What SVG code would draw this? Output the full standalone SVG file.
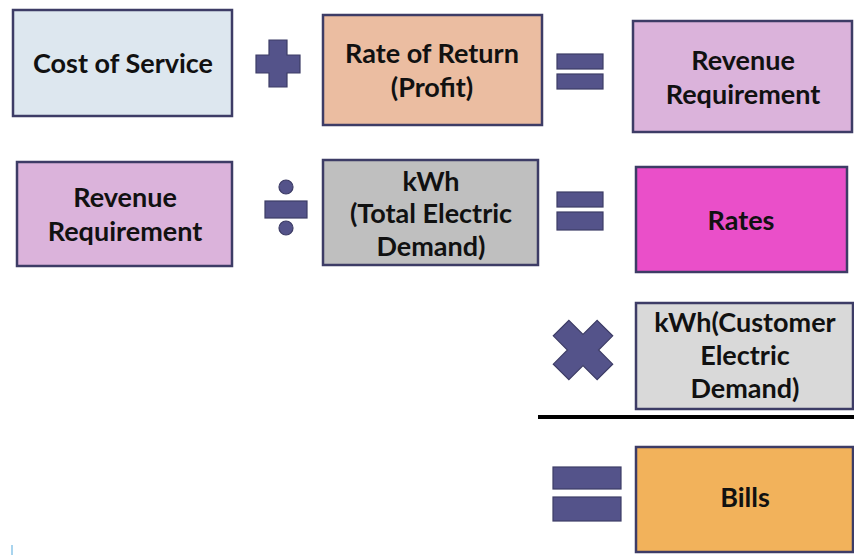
<svg xmlns="http://www.w3.org/2000/svg" width="854" height="556" viewBox="0 0 854 556">
<style>
.box{stroke:#3d3c66;stroke-width:2.5}
.sym{fill:#54538a;stroke:#3d3c66;stroke-width:1.2}
text{font-family:Lato,"Open Sans","Liberation Sans",sans-serif;font-weight:bold;font-size:27px;fill:#111;text-anchor:middle}
</style>
<rect width="854" height="556" fill="#ffffff"/>
<g id="cost">
<rect class="box" x="13" y="10" width="219" height="106" fill="#dde7ef"/>
<text x="123" y="73">Cost of Service</text>
</g>
<g id="plus">
<path class="sym" d="M269 40H287V55H300V73H287V87H269V73H256V55H269Z"/>
</g>
<g id="ror">
<rect class="box" x="323" y="15" width="219" height="110" fill="#ebbda1"/>
<text x="432" y="63">Rate of Return</text>
<text x="432" y="97">(Profit)</text>
</g>
<g id="eq1">
<rect class="sym" x="557" y="54" width="46" height="15"/>
<rect class="sym" x="557" y="74" width="46" height="15"/>
</g>
<g id="revreq1">
<rect class="box" x="633" y="21" width="219" height="111" fill="#dbb3db"/>
<text x="743" y="70">Revenue</text>
<text x="743" y="104">Requirement</text>
</g>
<g id="revreq2">
<rect class="box" x="17" y="162" width="215" height="104" fill="#dbb3db"/>
<text x="125" y="207">Revenue</text>
<text x="125" y="241">Requirement</text>
</g>
<g id="div">
<circle class="sym" cx="286" cy="187" r="7"/>
<rect class="sym" x="265" y="201" width="42" height="17"/>
<circle class="sym" cx="286" cy="228" r="7"/>
</g>
<g id="kwhtotal">
<rect class="box" x="323" y="160" width="215" height="105" fill="#bfbfbf"/>
<text x="431" y="191">kWh</text>
<text x="431" y="223">(Total Electric</text>
<text x="431" y="256">Demand)</text>
</g>
<g id="eq2">
<rect class="sym" x="557" y="192" width="46" height="15"/>
<rect class="sym" x="557" y="212" width="46" height="18"/>
</g>
<g id="rates">
<rect class="box" x="636" y="167" width="211" height="105" fill="#ea4fc9"/>
<text x="741" y="230">Rates</text>
</g>
<g id="times">
<path class="sym" transform="rotate(45 583 350)" d="M572 319H594V339H614V361H594V381H572V361H552V339H572Z"/>
</g>
<g id="kwhcust">
<rect class="box" x="636" y="303" width="217" height="106" fill="#d9d9d9"/>
<text x="745" y="332">kWh(Customer</text>
<text x="745" y="365">Electric</text>
<text x="745" y="398">Demand)</text>
</g>
<g id="connectors">
<line x1="538" y1="417" x2="854" y2="417" stroke="#000" stroke-width="4"/>
</g>
<g id="eq3">
<rect class="sym" x="553" y="467" width="68" height="22"/>
<rect class="sym" x="553" y="497" width="68" height="24"/>
</g>
<g id="bills">
<rect class="box" x="636" y="447" width="217" height="105" fill="#f2b25b"/>
<text x="745" y="507">Bills</text>
</g>
<rect x="11" y="545" width="2" height="10" fill="#a8d4ee"/>
</svg>
